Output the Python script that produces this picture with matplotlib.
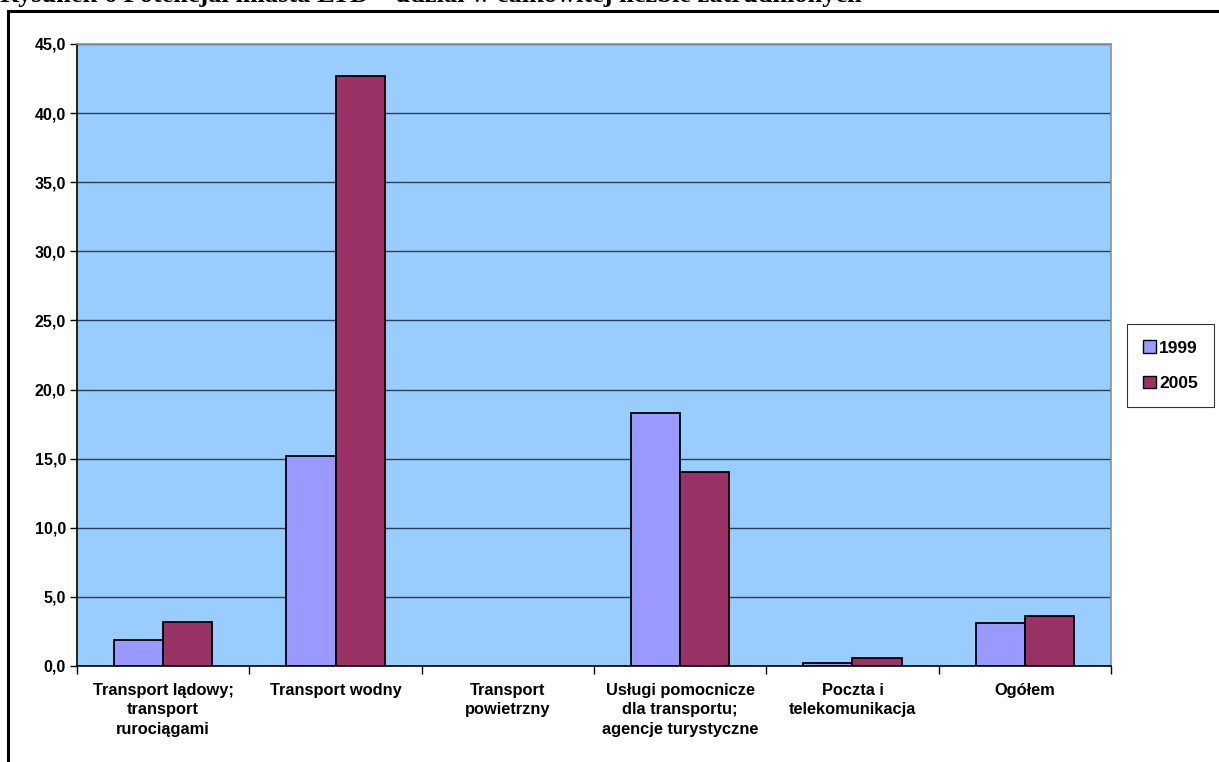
import numpy as np
import matplotlib.pyplot as plt
from matplotlib.patches import Rectangle, Patch

categories = ['Transport lądowy;\ntransport\nrurociągami',
              'Transport wodny',
              'Transport\npowietrzny',
              'Usługi pomocnicze\ndla transportu;\nagencje turystyczne',
              'Poczta i\ntelekomunikacja',
              'Ogółem']
v1999 = [1.9, 15.2, np.nan, 18.3, 0.2, 3.1]
v2005 = [3.2, 42.7, np.nan, 14.0, 0.6, 3.65]
yticks = [0, 5, 10, 15, 20, 25, 30, 35, 40, 45]
title = 'Rysunek 6 Potencjał miasta LTD – udział w całkowitej liczbie zatrudnionych'

W, H = 1219, 762
fig = plt.figure(figsize=(W / 100, H / 100), dpi=100)
plt.rcParams['font.family'] = ['Liberation Sans', 'DejaVu Sans']

# outer frame (right/bottom run off the picture)
fig.patches.append(Rectangle((8 / W, -0.2), 1.5, 1.2 - 11 / H,
                             transform=fig.transFigure, fill=False,
                             edgecolor='black', linewidth=2.2, clip_on=False))
fig.text(0.0, 1 - 2 / H, title, fontsize=19, fontweight='bold',
         family='Liberation Serif', ha='left', va='baseline')

ax = fig.add_axes([77 / W, 1 - 666 / H, (1111 - 77) / W, (666 - 44) / H])
ax.set_facecolor('#99CCFF')

x = np.arange(len(categories))
w = 0.285
ax.bar(x - w / 2, v1999, w, color='#9999FF', edgecolor='black', linewidth=1.3,
       label='1999', zorder=3)
ax.bar(x + w / 2, v2005, w, color='#993366', edgecolor='black', linewidth=1.3,
       label='2005', zorder=3)

ax.set_xlim(-0.5, len(categories) - 0.5)
ax.set_ylim(0, 45)
ax.set_yticks(yticks)
ax.set_yticklabels([f'{t:.1f}'.replace('.', ',') for t in yticks],
                   fontsize=11.5, fontweight='bold')
ax.yaxis.grid(True, color='#2b3f55', linewidth=1.0, zorder=1)
ax.set_axisbelow(True)

ax.set_xticks(np.arange(len(categories) + 1) - 0.5)
ax.set_xticklabels([])
ax.set_xticks(x, minor=True)
ax.set_xticklabels(categories, minor=True, fontsize=11.8, fontweight='bold',
                   linespacing=1.4)
ax.tick_params(axis='x', which='minor', length=0, pad=12)
ax.tick_params(axis='x', which='major', length=6, width=1, direction='out')
ax.tick_params(axis='y', length=5, width=1, direction='out', pad=3)

for s in ['left', 'bottom']:
    ax.spines[s].set_color('black')
    ax.spines[s].set_linewidth(1.2)
for s in ['top', 'right']:
    ax.spines[s].set_color('#909090')
    ax.spines[s].set_linewidth(1.2)

handles = [Patch(facecolor='#9999FF', edgecolor='black', label='1999'),
           Patch(facecolor='#993366', edgecolor='black', label='2005')]
leg = fig.legend(handles=handles, loc='upper left',
                 bbox_to_anchor=(1127 / W, 1 - 324 / H),
                 frameon=True, fancybox=False, edgecolor='black',
                 prop={'size': 12.5, 'weight': 'bold'},
                 handlelength=0.7, handleheight=0.7, handletextpad=0.2,
                 labelspacing=1.15, borderpad=0.95, borderaxespad=0)
leg.get_frame().set_linewidth(0.8)

fig.savefig('out.png', dpi=100)
